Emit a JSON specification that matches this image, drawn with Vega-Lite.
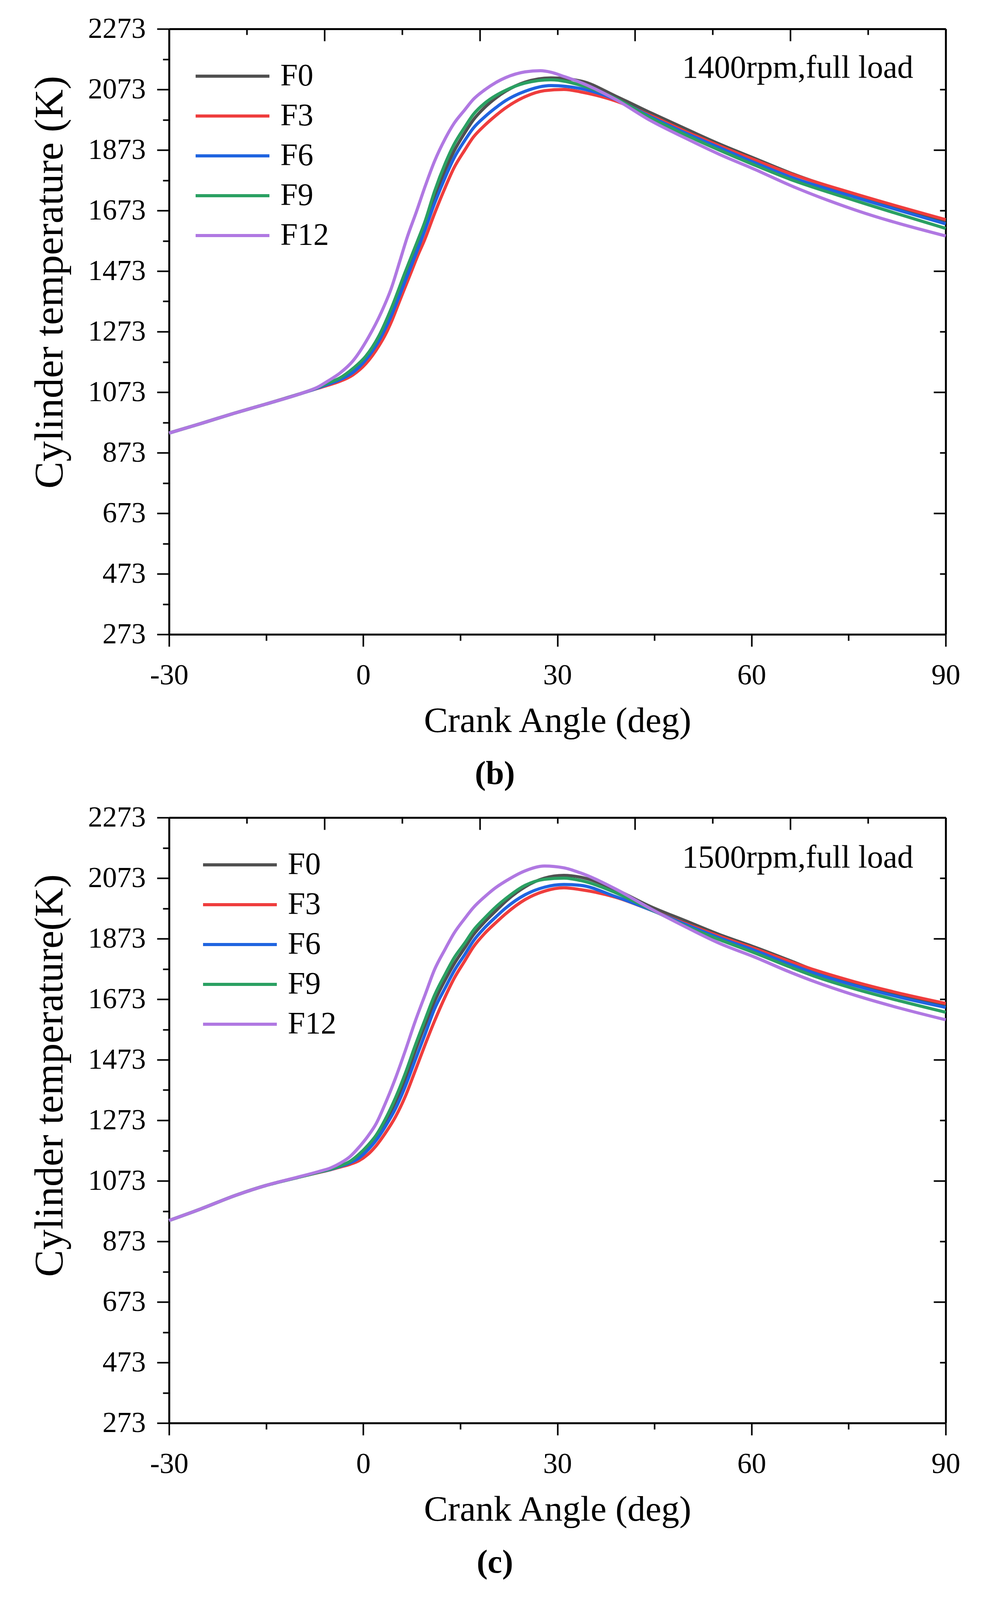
{
  "$schema": "https://vega.github.io/schema/vega-lite/v6.json",
  "background": "white",
  "padding": {"left": 76, "top": 37, "right": 0, "bottom": 10},
  "spacing": 32,
  "datasets": {
    "b": [
      {"fuel":"F0","angle":-30,"temp":938},{"fuel":"F0","angle":-25,"temp":970},{"fuel":"F0","angle":-20,"temp":1003},{"fuel":"F0","angle":-15,"temp":1034},{"fuel":"F0","angle":-10,"temp":1066},{"fuel":"F0","angle":-7,"temp":1088},{"fuel":"F0","angle":-5.6,"temp":1100},{"fuel":"F0","angle":-3.6,"temp":1117},{"fuel":"F0","angle":-1.6,"temp":1145},{"fuel":"F0","angle":0.4,"temp":1186},{"fuel":"F0","angle":2.4,"temp":1250},{"fuel":"F0","angle":4.4,"temp":1345},{"fuel":"F0","angle":6.4,"temp":1453},{"fuel":"F0","angle":8.4,"temp":1560},{"fuel":"F0","angle":9.6,"temp":1625},{"fuel":"F0","angle":11,"temp":1715},{"fuel":"F0","angle":12.7,"temp":1809},{"fuel":"F0","angle":14,"temp":1868},{"fuel":"F0","angle":15.7,"temp":1930},{"fuel":"F0","angle":17,"temp":1972},{"fuel":"F0","angle":18.8,"temp":2014},{"fuel":"F0","angle":20.5,"temp":2045},{"fuel":"F0","angle":22,"temp":2067},{"fuel":"F0","angle":25,"temp":2097},{"fuel":"F0","angle":29,"temp":2111},{"fuel":"F0","angle":33.6,"temp":2101},{"fuel":"F0","angle":39,"temp":2051},{"fuel":"F0","angle":44.4,"temp":1996},{"fuel":"F0","angle":49.8,"temp":1943},{"fuel":"F0","angle":55,"temp":1893},{"fuel":"F0","angle":60.5,"temp":1845},{"fuel":"F0","angle":66,"temp":1797},{"fuel":"F0","angle":76,"temp":1724},{"fuel":"F0","angle":90,"temp":1636},
      {"fuel":"F3","angle":-30,"temp":938},{"fuel":"F3","angle":-25,"temp":970},{"fuel":"F3","angle":-20,"temp":1003},{"fuel":"F3","angle":-15,"temp":1034},{"fuel":"F3","angle":-10,"temp":1066},{"fuel":"F3","angle":-7,"temp":1086},{"fuel":"F3","angle":-5.6,"temp":1095},{"fuel":"F3","angle":-3.6,"temp":1109},{"fuel":"F3","angle":-1.6,"temp":1130},{"fuel":"F3","angle":0.4,"temp":1167},{"fuel":"F3","angle":2.4,"temp":1225},{"fuel":"F3","angle":3.4,"temp":1262},{"fuel":"F3","angle":4.4,"temp":1308},{"fuel":"F3","angle":5.4,"temp":1362},{"fuel":"F3","angle":6.4,"temp":1416},{"fuel":"F3","angle":7.4,"temp":1469},{"fuel":"F3","angle":8.4,"temp":1523},{"fuel":"F3","angle":9.5,"temp":1577},{"fuel":"F3","angle":11,"temp":1662},{"fuel":"F3","angle":12.7,"temp":1751},{"fuel":"F3","angle":14,"temp":1813},{"fuel":"F3","angle":15.7,"temp":1873},{"fuel":"F3","angle":17,"temp":1915},{"fuel":"F3","angle":18.8,"temp":1955},{"fuel":"F3","angle":20.5,"temp":1987},{"fuel":"F3","angle":22,"temp":2012},{"fuel":"F3","angle":25,"temp":2049},{"fuel":"F3","angle":28,"temp":2069},{"fuel":"F3","angle":31,"temp":2073},{"fuel":"F3","angle":33.6,"temp":2065},{"fuel":"F3","angle":39,"temp":2035},{"fuel":"F3","angle":44.4,"temp":1987},{"fuel":"F3","angle":49.8,"temp":1934},{"fuel":"F3","angle":55,"temp":1887},{"fuel":"F3","angle":60.5,"temp":1840},{"fuel":"F3","angle":66,"temp":1795},{"fuel":"F3","angle":76,"temp":1728},{"fuel":"F3","angle":90,"temp":1643},
      {"fuel":"F6","angle":-30,"temp":938},{"fuel":"F6","angle":-25,"temp":970},{"fuel":"F6","angle":-20,"temp":1003},{"fuel":"F6","angle":-15,"temp":1034},{"fuel":"F6","angle":-10,"temp":1066},{"fuel":"F6","angle":-7,"temp":1087},{"fuel":"F6","angle":-5.6,"temp":1098},{"fuel":"F6","angle":-3.6,"temp":1114},{"fuel":"F6","angle":-1.6,"temp":1138},{"fuel":"F6","angle":0.4,"temp":1180},{"fuel":"F6","angle":2.4,"temp":1242},{"fuel":"F6","angle":4.4,"temp":1329},{"fuel":"F6","angle":6.4,"temp":1436},{"fuel":"F6","angle":8.4,"temp":1544},{"fuel":"F6","angle":9.6,"temp":1612},{"fuel":"F6","angle":11,"temp":1695},{"fuel":"F6","angle":12.7,"temp":1784},{"fuel":"F6","angle":14,"temp":1845},{"fuel":"F6","angle":15.7,"temp":1905},{"fuel":"F6","angle":17,"temp":1945},{"fuel":"F6","angle":18.8,"temp":1983},{"fuel":"F6","angle":20.5,"temp":2013},{"fuel":"F6","angle":22,"temp":2036},{"fuel":"F6","angle":25,"temp":2067},{"fuel":"F6","angle":29,"temp":2086},{"fuel":"F6","angle":33.6,"temp":2076},{"fuel":"F6","angle":39,"temp":2040},{"fuel":"F6","angle":44.4,"temp":1983},{"fuel":"F6","angle":49.8,"temp":1929},{"fuel":"F6","angle":55,"temp":1881},{"fuel":"F6","angle":60.5,"temp":1831},{"fuel":"F6","angle":66,"temp":1784},{"fuel":"F6","angle":76,"temp":1717},{"fuel":"F6","angle":90,"temp":1629},
      {"fuel":"F9","angle":-30,"temp":938},{"fuel":"F9","angle":-25,"temp":970},{"fuel":"F9","angle":-20,"temp":1003},{"fuel":"F9","angle":-15,"temp":1034},{"fuel":"F9","angle":-10,"temp":1066},{"fuel":"F9","angle":-7,"temp":1089},{"fuel":"F9","angle":-5.6,"temp":1102},{"fuel":"F9","angle":-3.6,"temp":1120},{"fuel":"F9","angle":-1.6,"temp":1151},{"fuel":"F9","angle":0.4,"temp":1192},{"fuel":"F9","angle":2.4,"temp":1258},{"fuel":"F9","angle":4.4,"temp":1353},{"fuel":"F9","angle":6.4,"temp":1465},{"fuel":"F9","angle":8.4,"temp":1573},{"fuel":"F9","angle":9.6,"temp":1640},{"fuel":"F9","angle":11,"temp":1735},{"fuel":"F9","angle":12.7,"temp":1830},{"fuel":"F9","angle":14,"temp":1890},{"fuel":"F9","angle":15.7,"temp":1949},{"fuel":"F9","angle":17,"temp":1990},{"fuel":"F9","angle":18.8,"temp":2028},{"fuel":"F9","angle":20.5,"temp":2053},{"fuel":"F9","angle":22,"temp":2070},{"fuel":"F9","angle":25,"temp":2094},{"fuel":"F9","angle":29,"temp":2105},{"fuel":"F9","angle":33.6,"temp":2087},{"fuel":"F9","angle":39,"temp":2043},{"fuel":"F9","angle":44.4,"temp":1979},{"fuel":"F9","angle":49.8,"temp":1923},{"fuel":"F9","angle":55,"temp":1873},{"fuel":"F9","angle":60.5,"temp":1823},{"fuel":"F9","angle":66,"temp":1776},{"fuel":"F9","angle":76,"temp":1706},{"fuel":"F9","angle":90,"temp":1614},
      {"fuel":"F12","angle":-30,"temp":938},{"fuel":"F12","angle":-25,"temp":970},{"fuel":"F12","angle":-20,"temp":1003},{"fuel":"F12","angle":-15,"temp":1034},{"fuel":"F12","angle":-10,"temp":1066},{"fuel":"F12","angle":-7,"temp":1090},{"fuel":"F12","angle":-5.6,"temp":1108},{"fuel":"F12","angle":-3.6,"temp":1136},{"fuel":"F12","angle":-1.6,"temp":1176},{"fuel":"F12","angle":0.8,"temp":1254},{"fuel":"F12","angle":2.8,"temp":1337},{"fuel":"F12","angle":4.4,"temp":1420},{"fuel":"F12","angle":5.6,"temp":1502},{"fuel":"F12","angle":6.8,"temp":1585},{"fuel":"F12","angle":8.2,"temp":1668},{"fuel":"F12","angle":9.6,"temp":1755},{"fuel":"F12","angle":11,"temp":1835},{"fuel":"F12","angle":12.7,"temp":1912},{"fuel":"F12","angle":14,"temp":1960},{"fuel":"F12","angle":15.7,"temp":2006},{"fuel":"F12","angle":17,"temp":2040},{"fuel":"F12","angle":18.8,"temp":2072},{"fuel":"F12","angle":20.5,"temp":2096},{"fuel":"F12","angle":22,"temp":2112},{"fuel":"F12","angle":25,"temp":2131},{"fuel":"F12","angle":27.4,"temp":2135},{"fuel":"F12","angle":29,"temp":2130},{"fuel":"F12","angle":31,"temp":2116},{"fuel":"F12","angle":33.6,"temp":2096},{"fuel":"F12","angle":39,"temp":2040},{"fuel":"F12","angle":44.4,"temp":1970},{"fuel":"F12","angle":49.8,"temp":1912},{"fuel":"F12","angle":55,"temp":1859},{"fuel":"F12","angle":60.5,"temp":1809},{"fuel":"F12","angle":66,"temp":1756},{"fuel":"F12","angle":76,"temp":1675},{"fuel":"F12","angle":90,"temp":1589}
    ],
    "c": [
      {"fuel":"F0","angle":-30,"temp":942},{"fuel":"F0","angle":-25,"temp":981},{"fuel":"F0","angle":-20,"temp":1023},{"fuel":"F0","angle":-15,"temp":1058},{"fuel":"F0","angle":-10,"temp":1085},{"fuel":"F0","angle":-7,"temp":1101},{"fuel":"F0","angle":-5,"temp":1112},{"fuel":"F0","angle":-3.5,"temp":1123},{"fuel":"F0","angle":-2,"temp":1136},{"fuel":"F0","angle":-0.7,"temp":1155},{"fuel":"F0","angle":0.7,"temp":1183},{"fuel":"F0","angle":2,"temp":1215},{"fuel":"F0","angle":3.4,"temp":1266},{"fuel":"F0","angle":5,"temp":1335},{"fuel":"F0","angle":6.5,"temp":1410},{"fuel":"F0","angle":8,"temp":1500},{"fuel":"F0","angle":9.6,"temp":1590},{"fuel":"F0","angle":11,"temp":1665},{"fuel":"F0","angle":12.7,"temp":1738},{"fuel":"F0","angle":14,"temp":1788},{"fuel":"F0","angle":15.7,"temp":1843},{"fuel":"F0","angle":17,"temp":1885},{"fuel":"F0","angle":18.8,"temp":1929},{"fuel":"F0","angle":20.5,"temp":1965},{"fuel":"F0","angle":22,"temp":1996},{"fuel":"F0","angle":25,"temp":2044},{"fuel":"F0","angle":28,"temp":2073},{"fuel":"F0","angle":31,"temp":2082},{"fuel":"F0","angle":33.6,"temp":2076},{"fuel":"F0","angle":39,"temp":2035},{"fuel":"F0","angle":44.4,"temp":1979},{"fuel":"F0","angle":49.8,"temp":1932},{"fuel":"F0","angle":55,"temp":1887},{"fuel":"F0","angle":60.5,"temp":1845},{"fuel":"F0","angle":66,"temp":1800},{"fuel":"F0","angle":70,"temp":1766},{"fuel":"F0","angle":76,"temp":1727},{"fuel":"F0","angle":83,"temp":1688},{"fuel":"F0","angle":90,"temp":1653},
      {"fuel":"F3","angle":-30,"temp":942},{"fuel":"F3","angle":-25,"temp":981},{"fuel":"F3","angle":-20,"temp":1023},{"fuel":"F3","angle":-15,"temp":1058},{"fuel":"F3","angle":-10,"temp":1085},{"fuel":"F3","angle":-7,"temp":1100},{"fuel":"F3","angle":-5,"temp":1110},{"fuel":"F3","angle":-3.5,"temp":1119},{"fuel":"F3","angle":-2,"temp":1128},{"fuel":"F3","angle":-0.7,"temp":1139},{"fuel":"F3","angle":0.7,"temp":1160},{"fuel":"F3","angle":2,"temp":1189},{"fuel":"F3","angle":3.4,"temp":1230},{"fuel":"F3","angle":5,"temp":1285},{"fuel":"F3","angle":6.5,"temp":1352},{"fuel":"F3","angle":8,"temp":1435},{"fuel":"F3","angle":9.6,"temp":1525},{"fuel":"F3","angle":11,"temp":1600},{"fuel":"F3","angle":12.7,"temp":1683},{"fuel":"F3","angle":14,"temp":1740},{"fuel":"F3","angle":15.7,"temp":1800},{"fuel":"F3","angle":17,"temp":1845},{"fuel":"F3","angle":18.8,"temp":1891},{"fuel":"F3","angle":20.5,"temp":1926},{"fuel":"F3","angle":22,"temp":1955},{"fuel":"F3","angle":25,"temp":2002},{"fuel":"F3","angle":28,"temp":2030},{"fuel":"F3","angle":31,"temp":2041},{"fuel":"F3","angle":33.6,"temp":2035},{"fuel":"F3","angle":39,"temp":2010},{"fuel":"F3","angle":44.4,"temp":1968},{"fuel":"F3","angle":49.8,"temp":1923},{"fuel":"F3","angle":55,"temp":1881},{"fuel":"F3","angle":60.5,"temp":1840},{"fuel":"F3","angle":66,"temp":1797},{"fuel":"F3","angle":70,"temp":1768},{"fuel":"F3","angle":76,"temp":1730},{"fuel":"F3","angle":83,"temp":1692},{"fuel":"F3","angle":90,"temp":1659},
      {"fuel":"F6","angle":-30,"temp":942},{"fuel":"F6","angle":-25,"temp":981},{"fuel":"F6","angle":-20,"temp":1023},{"fuel":"F6","angle":-15,"temp":1058},{"fuel":"F6","angle":-10,"temp":1085},{"fuel":"F6","angle":-7,"temp":1101},{"fuel":"F6","angle":-5,"temp":1111},{"fuel":"F6","angle":-3.5,"temp":1121},{"fuel":"F6","angle":-2,"temp":1133},{"fuel":"F6","angle":-0.7,"temp":1148},{"fuel":"F6","angle":0.7,"temp":1175},{"fuel":"F6","angle":2,"temp":1207},{"fuel":"F6","angle":3.4,"temp":1252},{"fuel":"F6","angle":5,"temp":1312},{"fuel":"F6","angle":6.5,"temp":1385},{"fuel":"F6","angle":8,"temp":1470},{"fuel":"F6","angle":9.6,"temp":1560},{"fuel":"F6","angle":11,"temp":1640},{"fuel":"F6","angle":12.7,"temp":1712},{"fuel":"F6","angle":14,"temp":1765},{"fuel":"F6","angle":15.7,"temp":1821},{"fuel":"F6","angle":17,"temp":1865},{"fuel":"F6","angle":18.8,"temp":1910},{"fuel":"F6","angle":20.5,"temp":1945},{"fuel":"F6","angle":22,"temp":1974},{"fuel":"F6","angle":25,"temp":2018},{"fuel":"F6","angle":28,"temp":2043},{"fuel":"F6","angle":31,"temp":2052},{"fuel":"F6","angle":33.6,"temp":2049},{"fuel":"F6","angle":39,"temp":2012},{"fuel":"F6","angle":44.4,"temp":1968},{"fuel":"F6","angle":49.8,"temp":1920},{"fuel":"F6","angle":55,"temp":1876},{"fuel":"F6","angle":60.5,"temp":1834},{"fuel":"F6","angle":66,"temp":1788},{"fuel":"F6","angle":70,"temp":1757},{"fuel":"F6","angle":76,"temp":1718},{"fuel":"F6","angle":83,"temp":1679},{"fuel":"F6","angle":90,"temp":1646},
      {"fuel":"F9","angle":-30,"temp":942},{"fuel":"F9","angle":-25,"temp":981},{"fuel":"F9","angle":-20,"temp":1023},{"fuel":"F9","angle":-15,"temp":1058},{"fuel":"F9","angle":-10,"temp":1085},{"fuel":"F9","angle":-7,"temp":1101},{"fuel":"F9","angle":-5,"temp":1112},{"fuel":"F9","angle":-3.5,"temp":1123},{"fuel":"F9","angle":-2,"temp":1138},{"fuel":"F9","angle":-0.7,"temp":1160},{"fuel":"F9","angle":0.7,"temp":1190},{"fuel":"F9","angle":2,"temp":1224},{"fuel":"F9","angle":3.4,"temp":1276},{"fuel":"F9","angle":5,"temp":1348},{"fuel":"F9","angle":6.5,"temp":1428},{"fuel":"F9","angle":8,"temp":1518},{"fuel":"F9","angle":9.6,"temp":1608},{"fuel":"F9","angle":11,"temp":1685},{"fuel":"F9","angle":12.7,"temp":1757},{"fuel":"F9","angle":14,"temp":1808},{"fuel":"F9","angle":15.7,"temp":1859},{"fuel":"F9","angle":17,"temp":1900},{"fuel":"F9","angle":18.8,"temp":1942},{"fuel":"F9","angle":20.5,"temp":1978},{"fuel":"F9","angle":22,"temp":2005},{"fuel":"F9","angle":25,"temp":2049},{"fuel":"F9","angle":28,"temp":2069},{"fuel":"F9","angle":31,"temp":2073},{"fuel":"F9","angle":33.6,"temp":2065},{"fuel":"F9","angle":39,"temp":2025},{"fuel":"F9","angle":44.4,"temp":1970},{"fuel":"F9","angle":49.8,"temp":1915},{"fuel":"F9","angle":55,"temp":1870},{"fuel":"F9","angle":60.5,"temp":1826},{"fuel":"F9","angle":66,"temp":1779},{"fuel":"F9","angle":70,"temp":1747},{"fuel":"F9","angle":76,"temp":1707},{"fuel":"F9","angle":83,"temp":1667},{"fuel":"F9","angle":90,"temp":1630},
      {"fuel":"F12","angle":-30,"temp":942},{"fuel":"F12","angle":-25,"temp":981},{"fuel":"F12","angle":-20,"temp":1023},{"fuel":"F12","angle":-15,"temp":1058},{"fuel":"F12","angle":-10,"temp":1086},{"fuel":"F12","angle":-7,"temp":1103},{"fuel":"F12","angle":-5,"temp":1116},{"fuel":"F12","angle":-3.5,"temp":1132},{"fuel":"F12","angle":-2,"temp":1154},{"fuel":"F12","angle":-0.7,"temp":1183},{"fuel":"F12","angle":0.7,"temp":1220},{"fuel":"F12","angle":2,"temp":1262},{"fuel":"F12","angle":3.4,"temp":1328},{"fuel":"F12","angle":5,"temp":1413},{"fuel":"F12","angle":6.5,"temp":1503},{"fuel":"F12","angle":8,"temp":1598},{"fuel":"F12","angle":9.6,"temp":1690},{"fuel":"F12","angle":11,"temp":1770},{"fuel":"F12","angle":12.7,"temp":1840},{"fuel":"F12","angle":14,"temp":1890},{"fuel":"F12","angle":15.7,"temp":1940},{"fuel":"F12","angle":17,"temp":1975},{"fuel":"F12","angle":18.8,"temp":2012},{"fuel":"F12","angle":20.5,"temp":2042},{"fuel":"F12","angle":22,"temp":2063},{"fuel":"F12","angle":25,"temp":2097},{"fuel":"F12","angle":28,"temp":2113},{"fuel":"F12","angle":31,"temp":2107},{"fuel":"F12","angle":33.6,"temp":2090},{"fuel":"F12","angle":39,"temp":2037},{"fuel":"F12","angle":44.4,"temp":1972},{"fuel":"F12","angle":49.8,"temp":1912},{"fuel":"F12","angle":55,"temp":1858},{"fuel":"F12","angle":60.5,"temp":1812},{"fuel":"F12","angle":66,"temp":1762},{"fuel":"F12","angle":70,"temp":1729},{"fuel":"F12","angle":76,"temp":1686},{"fuel":"F12","angle":83,"temp":1643},{"fuel":"F12","angle":90,"temp":1605}
    ],
    "noteB": [{"angle": 85, "temp": 2112, "note": "1400rpm,full load"}],
    "noteC": [{"angle": 85, "temp": 2108, "note": "1500rpm,full load"}]
  },
  "vconcat": [
    {
      "width": 1989,
      "height": 1550,
      "title": {"text": "(b)", "orient": "bottom", "anchor": "middle", "frame": "bounds", "fontSize": 84, "font": "Liberation Serif", "fontWeight": "bold", "color": "black", "offset": 50},
      "layer": [
        {
          "data": {"name": "b"},
          "mark": {"type": "line", "interpolate": "monotone", "strokeWidth": 8},
          "encoding": {
            "x": {"field": "angle", "type": "quantitative", "scale": {"domain": [-30, 90], "nice": false, "zero": false},
                  "axis": {"orient": "bottom", "values": [-30, 0, 30, 60, 90], "labelExpr": "'' + datum.value", "tickSize": 31, "labelPadding": 38, "labelFlush": false, "labelOverlap": false, "title": "Crank Angle (deg)", "titlePadding": 34}},
            "y": {"field": "temp", "type": "quantitative", "scale": {"domain": [273, 2273], "nice": false, "zero": false},
                  "axis": {"orient": "left", "values": [273, 473, 673, 873, 1073, 1273, 1473, 1673, 1873, 2073, 2273], "labelExpr": "'' + datum.value", "tickSize": 31, "labelPadding": 29, "labelOverlap": false, "title": "Cylinder temperature (K)", "titleFontSize": 104, "titlePadding": 52, "titleY": 648}},
            "color": {"field": "fuel", "type": "nominal", "sort": ["F0", "F3", "F6", "F9", "F12"],
                      "scale": {"domain": ["F0", "F3", "F6", "F9", "F12"], "range": ["#505050", "#ef3d3d", "#1f64e0", "#2aa062", "#b078e2"]},
                      "legend": {"orient": "none", "legendX": 64, "legendY": 76, "title": null}}
          }
        },
        {
          "data": {"name": "noteB"},
          "mark": {"type": "text", "align": "right", "baseline": "alphabetic", "fontSize": 82, "font": "Liberation Serif", "color": "black"},
          "encoding": {
            "x": {"field": "angle", "type": "quantitative", "axis": {"orient": "bottom", "values": [-15, 15, 45, 75], "tickSize": 16, "labels": false, "domain": false, "title": null}},
            "y": {"field": "temp", "type": "quantitative", "axis": {"orient": "left", "values": [373, 573, 773, 973, 1173, 1373, 1573, 1773, 1973, 2173], "tickSize": 16, "labels": false, "domain": false, "title": null}},
            "text": {"field": "note"}
          }
        },
        {
          "data": {"name": "noteB"},
          "mark": {"type": "text", "opacity": 0, "text": "."},
          "encoding": {
            "x": {"field": "angle", "type": "quantitative", "axis": {"orient": "top", "values": [-6, 18, 42, 66, 90], "tickSize": -31, "labels": false, "domain": true, "title": null}},
            "y": {"field": "temp", "type": "quantitative", "axis": {"orient": "right", "values": [273, 673, 1073, 1473, 1873, 2273], "tickSize": -31, "labels": false, "domain": true, "title": null}}
          }
        },
        {
          "data": {"name": "noteB"},
          "mark": {"type": "text", "opacity": 0, "text": "."},
          "encoding": {
            "x": {"field": "angle", "type": "quantitative", "axis": {"orient": "top", "values": [-18, 6, 30, 54, 78], "tickSize": -15, "labels": false, "domain": false, "title": null}},
            "y": {"field": "temp", "type": "quantitative", "axis": {"orient": "right", "values": [473, 873, 1273, 1673, 2073], "tickSize": -15, "labels": false, "domain": false, "title": null}}
          }
        }
      ],
      "resolve": {"axis": {"x": "independent", "y": "independent"}}
    },
    {
      "width": 1989,
      "height": 1550,
      "title": {"text": "(c)", "orient": "bottom", "anchor": "middle", "frame": "bounds", "fontSize": 84, "font": "Liberation Serif", "fontWeight": "bold", "color": "black", "offset": 50},
      "layer": [
        {
          "data": {"name": "c"},
          "mark": {"type": "line", "interpolate": "monotone", "strokeWidth": 8},
          "encoding": {
            "x": {"field": "angle", "type": "quantitative", "scale": {"domain": [-30, 90], "nice": false, "zero": false},
                  "axis": {"orient": "bottom", "values": [-30, 0, 30, 60, 90], "labelExpr": "'' + datum.value", "tickSize": 31, "labelPadding": 38, "labelFlush": false, "labelOverlap": false, "title": "Crank Angle (deg)", "titlePadding": 34}},
            "y": {"field": "temp", "type": "quantitative", "scale": {"domain": [273, 2273], "nice": false, "zero": false},
                  "axis": {"orient": "left", "values": [273, 473, 673, 873, 1073, 1273, 1473, 1673, 1873, 2073, 2273], "labelExpr": "'' + datum.value", "tickSize": 31, "labelPadding": 29, "labelOverlap": false, "title": "Cylinder temperature(K)", "titleFontSize": 104, "titlePadding": 52, "titleY": 660}},
            "color": {"field": "fuel", "type": "nominal", "sort": ["F0", "F3", "F6", "F9", "F12"],
                      "scale": {"domain": ["F0", "F3", "F6", "F9", "F12"], "range": ["#505050", "#ef3d3d", "#1f64e0", "#2aa062", "#b078e2"]},
                      "legend": {"orient": "none", "legendX": 83, "legendY": 76, "title": null}}
          }
        },
        {
          "data": {"name": "noteC"},
          "mark": {"type": "text", "align": "right", "baseline": "alphabetic", "fontSize": 82, "font": "Liberation Serif", "color": "black"},
          "encoding": {
            "x": {"field": "angle", "type": "quantitative", "axis": {"orient": "bottom", "values": [-15, 15, 45, 75], "tickSize": 16, "labels": false, "domain": false, "title": null}},
            "y": {"field": "temp", "type": "quantitative", "axis": {"orient": "left", "values": [373, 573, 773, 973, 1173, 1373, 1573, 1773, 1973, 2173], "tickSize": 16, "labels": false, "domain": false, "title": null}},
            "text": {"field": "note"}
          }
        },
        {
          "data": {"name": "noteC"},
          "mark": {"type": "text", "opacity": 0, "text": "."},
          "encoding": {
            "x": {"field": "angle", "type": "quantitative", "axis": {"orient": "top", "values": [-6, 18, 42, 66, 90], "tickSize": -31, "labels": false, "domain": true, "title": null}},
            "y": {"field": "temp", "type": "quantitative", "axis": {"orient": "right", "values": [273, 673, 1073, 1473, 1873, 2273], "tickSize": -31, "labels": false, "domain": true, "title": null}}
          }
        },
        {
          "data": {"name": "noteC"},
          "mark": {"type": "text", "opacity": 0, "text": "."},
          "encoding": {
            "x": {"field": "angle", "type": "quantitative", "axis": {"orient": "top", "values": [-18, 6, 30, 54, 78], "tickSize": -15, "labels": false, "domain": false, "title": null}},
            "y": {"field": "temp", "type": "quantitative", "axis": {"orient": "right", "values": [473, 873, 1273, 1673, 2073], "tickSize": -15, "labels": false, "domain": false, "title": null}}
          }
        }
      ],
      "resolve": {"axis": {"x": "independent", "y": "independent"}}
    }
  ],
  "resolve": {"scale": {"color": "independent"}, "legend": {"color": "independent"}},
  "config": {
    "view": {"stroke": null},
    "font": "Liberation Serif",
    "axis": {"grid": false, "domainColor": "black", "domainWidth": 5, "tickColor": "black", "tickWidth": 4, "labelColor": "black", "labelFont": "Liberation Serif", "labelFontSize": 74, "titleColor": "black", "titleFont": "Liberation Serif", "titleFontSize": 92, "titleFontWeight": "normal"},
    "legend": {"symbolType": "stroke", "symbolSize": 35721, "symbolStrokeWidth": 8, "labelFont": "Liberation Serif", "labelFontSize": 80, "labelColor": "black", "labelOffset": 24, "clipHeight": 90, "rowPadding": 12, "padding": 0}
  }
}
